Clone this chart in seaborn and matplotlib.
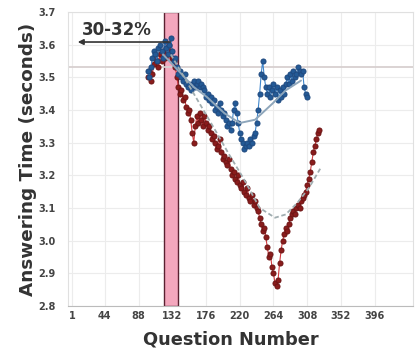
import numpy as np
import pandas as pd
import matplotlib
matplotlib.use("Agg")
import matplotlib.pyplot as plt
import seaborn as sns

# ---- data ----
blue_x = [100, 102, 104, 106, 108, 110, 112, 114, 116, 118, 120, 122, 124, 126, 128, 130,
          132, 134, 136, 138, 140, 142, 144, 146, 148, 150, 152, 154, 156, 158, 160, 162,
          164, 166, 168, 170, 172, 174, 176, 178, 180, 182, 184, 186, 188, 190, 192, 194,
          196, 198, 200, 202, 204, 206, 208, 210, 212, 214, 216, 218, 220, 222, 224, 226,
          228, 230, 232, 234, 236, 238, 240, 242, 244, 246, 248, 250, 252, 254, 256, 258,
          260, 262, 264, 266, 268, 270, 272, 274, 276, 278, 280, 282, 284, 286, 288, 290,
          292, 294, 296, 298, 300, 302, 304, 306, 308]
blue_y = [3.52, 3.50, 3.53, 3.56, 3.58, 3.57, 3.55, 3.59, 3.60, 3.58, 3.56, 3.61, 3.59, 3.57, 3.60, 3.62,
          3.58, 3.55, 3.56, 3.53, 3.51, 3.52, 3.50, 3.49, 3.51, 3.48, 3.47, 3.48, 3.46, 3.48, 3.49, 3.47,
          3.48, 3.49, 3.47, 3.48, 3.47, 3.46, 3.44, 3.45, 3.43, 3.44, 3.42, 3.43, 3.40, 3.41, 3.39, 3.42,
          3.40, 3.38, 3.39, 3.37, 3.35, 3.36, 3.34, 3.36, 3.40, 3.42, 3.39, 3.36, 3.33, 3.31, 3.30, 3.28,
          3.29, 3.30, 3.29, 3.31, 3.30, 3.32, 3.33, 3.36, 3.40, 3.45, 3.51, 3.55, 3.50, 3.47, 3.45, 3.47,
          3.44, 3.46, 3.48, 3.45, 3.47, 3.43, 3.46, 3.44, 3.47, 3.45, 3.48, 3.50, 3.48, 3.51, 3.49, 3.52,
          3.50, 3.51, 3.53, 3.52, 3.51, 3.52, 3.47, 3.45, 3.44]

red_x = [100, 102, 104, 106, 108, 110, 112, 114, 116, 118, 120, 122, 124, 126, 128, 130,
         132, 134, 136, 138, 140, 142, 144, 146, 148, 150, 152, 154, 156, 158, 160, 162,
         164, 166, 168, 170, 172, 174, 176, 178, 180, 182, 184, 186, 188, 190, 192, 194,
         196, 198, 200, 202, 204, 206, 208, 210, 212, 214, 216, 218, 220, 222, 224, 226,
         228, 230, 232, 234, 236, 238, 240, 242, 244, 246, 248, 250, 252, 254, 256, 258,
         260, 262, 264, 266, 268, 270, 272, 274, 276, 278, 280, 282, 284, 286, 288, 290,
         292, 294, 296, 298, 300, 302, 304, 306, 308, 310, 312, 314, 316, 318, 320, 322, 324]
red_y = [3.50, 3.52, 3.49, 3.51, 3.54, 3.56, 3.55, 3.53, 3.57, 3.55, 3.58, 3.56, 3.59, 3.57, 3.60, 3.58,
         3.56, 3.55, 3.53, 3.50, 3.47, 3.45, 3.46, 3.43, 3.44, 3.41, 3.39, 3.40, 3.37, 3.33, 3.30, 3.35,
         3.38, 3.36, 3.39, 3.37, 3.35, 3.38, 3.36, 3.34, 3.35, 3.33, 3.31, 3.32, 3.30, 3.28, 3.29, 3.31,
         3.27, 3.25, 3.26, 3.24, 3.23, 3.25, 3.22, 3.20, 3.21, 3.19, 3.18, 3.20, 3.17, 3.16, 3.18, 3.15,
         3.14, 3.16, 3.13, 3.12, 3.14, 3.11, 3.12, 3.10, 3.09, 3.07, 3.05, 3.03, 3.04, 3.01, 2.98, 2.95,
         2.96, 2.92, 2.90, 2.87, 2.86, 2.88, 2.93, 2.97, 3.00, 3.02, 3.04, 3.03, 3.05, 3.07, 3.08, 3.09,
         3.08, 3.10, 3.11, 3.10, 3.12, 3.13, 3.14, 3.15, 3.17, 3.19, 3.21, 3.24, 3.27, 3.29, 3.31, 3.33, 3.34]

blue_fit_x = [120, 140, 160, 177, 200, 220, 240, 263, 280, 300]
blue_fit_y = [3.57, 3.52, 3.47, 3.44, 3.39, 3.36, 3.37, 3.42, 3.46, 3.49]

red_fit_x = [130, 150, 170, 190, 207, 225, 246, 266, 280, 295, 310, 325]
red_fit_y = [3.57, 3.49, 3.41, 3.33, 3.26, 3.19, 3.10, 3.07, 3.08, 3.115, 3.16, 3.22]

x_ticks = [1, 44, 88, 132, 176, 220, 264, 308, 352, 396]
y_ticks = [2.8, 2.9, 3.0, 3.1, 3.2, 3.3, 3.4, 3.5, 3.6, 3.7]

band_range = [121, 139]
ref_level = 3.53
arrow_level = 3.608
label_text = "30-32%"

# ---- figure ----
sns.set_theme(style="whitegrid")
plt.rcParams['font.family'] = ['DejaVu Sans']

fig = plt.figure(figsize=(4.15, 3.52), dpi=100)
ax = fig.add_axes([0.164, 0.131, 0.831, 0.835])

ax.set_xlim(-4, 446)
ax.set_ylim(2.8, 3.7)
ax.set_xticks(x_ticks)
ax.set_yticks(y_ticks)
ax.set_yticklabels([f"{v:.1f}" for v in y_ticks])
ax.grid(True, color="#ececec", linewidth=0.8)
for s in ax.spines.values():
    s.set_color("#e0e0e0")
    s.set_linewidth(0.8)
ax.spines['bottom'].set_color("#bbbbbb")

# shaded band
ax.axvspan(band_range[0], band_range[1], facecolor="#f4a7bd", edgecolor="#5a2030",
           linewidth=1.0, zorder=1)
# reference horizontal line
ax.axhline(ref_level, color="#d8d0d0", linewidth=1.3, zorder=1)

df_b = pd.DataFrame({"x": blue_x, "y": blue_y})
df_r = pd.DataFrame({"x": red_x, "y": red_y})

sns.lineplot(data=df_r, x="x", y="y", ax=ax, color="#d23a3f", linewidth=0.8,
             marker="o", markersize=3.6, markeredgecolor="#6e1515",
             markerfacecolor="#8a1c1c", zorder=3)
sns.lineplot(data=df_b, x="x", y="y", ax=ax, color="#3f86cc", linewidth=0.8,
             marker="o", markersize=3.6, markeredgecolor="#1f4a80",
             markerfacecolor="#245a96", zorder=4)

sns.lineplot(x=blue_fit_x, y=blue_fit_y, ax=ax, color="#8ea6bb", linewidth=1.4, zorder=5)
sns.lineplot(x=red_fit_x, y=red_fit_y, ax=ax, color="#a0adb0", linewidth=1.3,
             linestyle=(0, (2.5, 1.5)), zorder=5)

# arrow and label
ax.annotate("", xy=(5, arrow_level), xytext=(133, arrow_level),
            arrowprops=dict(arrowstyle="-|>", color="#333333", lw=1.2,
                            mutation_scale=8), zorder=6)
ax.text(60, 3.645, label_text, ha="center", va="center", fontsize=12,
        fontweight="bold", color="#333333", zorder=6)

ax.set_xlabel("Question Number", fontsize=12.8, fontweight="bold", color="#333333")
ax.set_ylabel("Answering Time (seconds)", fontsize=13.2, fontweight="bold", color="#333333")
ax.xaxis.set_label_coords(0.473, -0.085)
ax.yaxis.set_label_coords(-0.09, 0.5)
ax.tick_params(axis="x", labelsize=7, colors="#444444", pad=4, length=0)
ax.tick_params(axis="y", labelsize=7, colors="#444444", pad=9, length=0)
for lab in ax.get_xticklabels() + ax.get_yticklabels():
    lab.set_fontweight("bold")

fig.savefig("out.png", dpi=100)
